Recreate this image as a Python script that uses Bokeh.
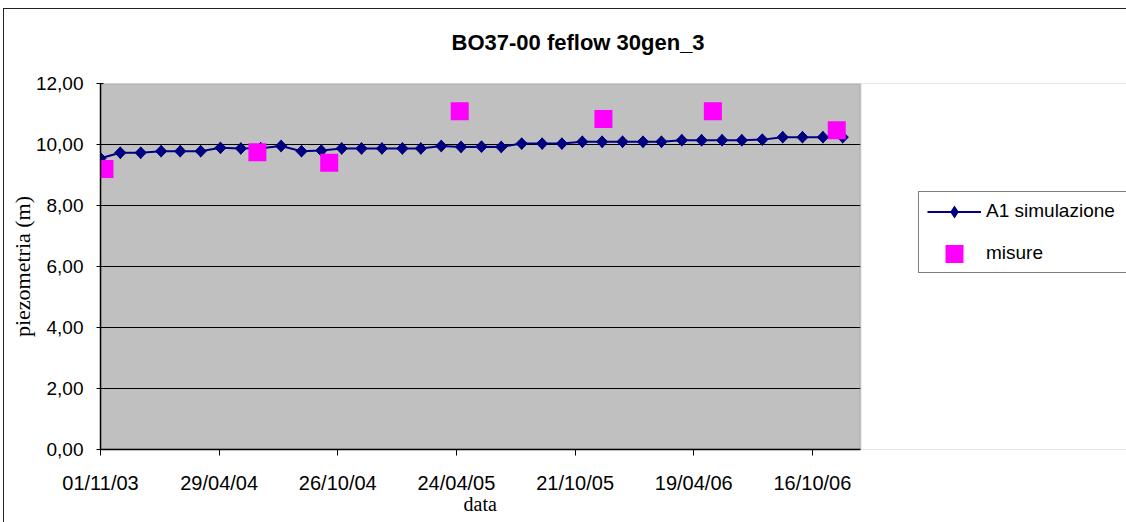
import math
import pandas as pd
from bokeh.plotting import figure
from bokeh.models import (Range1d, FixedTicker, DatetimeTickFormatter, Legend,
                          LegendItem, Title, BoxAnnotation)
from bokeh.embed import file_html
from bokeh.resources import INLINE

# ---------------- data ----------------
title_text = "BO37-00 feflow 30gen_3"
x_label = "data"
y_label = "piezometria (m)"
series_sim = "A1 simulazione"
series_meas = "misure"

x_tick_labels = ["01/11/03", "29/04/04", "26/10/04", "24/04/05",
                 "21/10/05", "19/04/06", "16/10/06"]
y_ticks = [0, 2, 4, 6, 8, 10, 12]
y_tick_labels = ["0,00", "2,00", "4,00", "6,00", "8,00", "10,00", "12,00"]

x_start = "2003-11-01"
x_end = "2006-12-28"
y_min, y_max = 0, 12

# monthly simulation values (Nov 2003 - Dec 2006)
sim_dates = pd.date_range("2003-11-01", periods=38, freq="MS")
sim_values = [9.55, 9.73, 9.73, 9.78, 9.78, 9.78, 9.89, 9.87, 9.88, 9.95,
              9.78, 9.80, 9.87, 9.87, 9.87, 9.87, 9.87, 9.95, 9.92, 9.93,
              9.92, 10.03, 10.03, 10.03, 10.09, 10.09, 10.09, 10.09, 10.09, 10.14,
              10.14, 10.14, 10.14, 10.16, 10.24, 10.24, 10.24, 10.24]

meas_dates = pd.to_datetime(["2003-11-07", "2004-06-26", "2004-10-13", "2005-04-29",
                             "2005-12-03", "2006-05-18", "2006-11-22"])
meas_values = [9.20, 9.75, 9.40, 11.09, 10.84, 11.09, 10.47]

# ---------------- layout constants ----------------
W, H = 1126, 522
LEFT, TOP, BOTTOM = 100, 83, 73
PLOT_RIGHT = 860          # right edge of the grey plot area (px)
SANS = "Liberation Sans"
SERIF = "Liberation Serif"

t0, t1 = pd.Timestamp(x_start), pd.Timestamp(x_end)
# the Bokeh frame runs to the canvas edge so the legend can sit right of the plot area
frame_end = t0 + (t1 - t0) * ((W - LEFT) / (PLOT_RIGHT - LEFT))

p = figure(width=W, height=H, x_axis_type="datetime",
           x_range=Range1d(t0, frame_end), y_range=Range1d(y_min, y_max),
           output_backend="svg", toolbar_location=None,
           min_border_left=LEFT, min_border_right=0,
           min_border_top=TOP, min_border_bottom=BOTTOM)

# outer chart border (left and top edges only)
p.styles = {"box-shadow": "inset 3px 8px 0 0 #ffffff, inset 4px 9px 0 0 #222222",
            "background-color": "#ffffff"}
p.border_fill_alpha = 0

p.title = Title(text=title_text, align="left", offset=351,
                text_font=SANS, text_font_size="22px", text_font_style="bold",
                text_color="black", vertical_align="top", standoff=54)

p.background_fill_color = "#C0C0C0"
p.outline_line_color = None

# x axis
tick_dates = pd.to_datetime(x_tick_labels, format="%d/%m/%y")
tick_ms = [d.timestamp() * 1000.0 for d in tick_dates]
p.xaxis.ticker = FixedTicker(ticks=tick_ms)
p.xaxis.bounds = (t0, t1)
fmt = "%d/%m/%y"
p.xaxis.formatter = DatetimeTickFormatter(
    microseconds=fmt, milliseconds=fmt, seconds=fmt, minsec=fmt, minutes=fmt,
    hourmin=fmt, hours=fmt, days=fmt, months=fmt, years=fmt)
p.xaxis.major_label_text_font = SANS
p.xaxis.major_label_text_font_size = "20px"
p.xaxis.major_label_text_color = "black"
p.xaxis.major_tick_out = 6
p.xaxis.major_tick_in = 0
p.xaxis.major_label_standoff = 16
p.xaxis.minor_tick_line_color = None
p.xaxis.axis_line_color = "black"
p.xaxis.axis_line_width = 1.5
p.xaxis.major_tick_line_color = "black"

# x-axis title, centred under the grey plot area (not under the whole frame)
p.add_layout(Title(text=x_label, align="left", offset=363, text_font=SERIF,
                   text_font_size="20px", text_font_style="normal",
                   text_color="black", standoff=-12), "below")

# y axis
p.yaxis.ticker = FixedTicker(ticks=y_ticks)
p.yaxis.major_label_overrides = {t: l for t, l in zip(y_ticks, y_tick_labels)}
p.yaxis.major_label_text_font = SANS
p.yaxis.major_label_text_font_size = "19px"
p.yaxis.major_label_text_color = "black"
p.yaxis.major_tick_out = 4
p.yaxis.major_tick_in = 3
p.yaxis.major_label_standoff = 13
p.yaxis.minor_tick_line_color = None
p.yaxis.axis_line_color = "black"
p.yaxis.axis_line_width = 1.5
p.yaxis.major_tick_line_color = "black"
p.yaxis.axis_label = y_label
p.yaxis.axis_label_text_font = SERIF
p.yaxis.axis_label_text_font_size = "22px"
p.yaxis.axis_label_text_font_style = "normal"
p.yaxis.axis_label_text_color = "black"
p.yaxis.axis_label_standoff = -2

p.xgrid.visible = False
p.ygrid.grid_line_color = "black"
p.ygrid.grid_line_width = 1

# white area right of the plot area, then the plot-area border
p.add_layout(BoxAnnotation(left=t1, fill_color="white", fill_alpha=1,
                           line_alpha=0, level="underlay"))
p.add_layout(BoxAnnotation(left=t0, right=t1, bottom=y_min, top=y_max,
                           fill_alpha=0, line_color="#808080", line_width=2,
                           level="underlay"))

# ---------------- glyphs ----------------
r_line = p.line(sim_dates, sim_values, line_color="#000080", line_width=2)
# diamond marker underneath (used as the legend key; legend keys are never rotated)
r_dia_key = p.scatter(sim_dates, sim_values, marker="diamond", size=8.4,
                      fill_color="#000080", line_color="#000080", line_width=2.5,
                      line_join="miter")
r_dia = p.scatter(sim_dates, sim_values, marker="square", angle=math.pi / 4,
                  size=8, fill_color="#000080", line_color="#000080", line_width=1)
# square drawn with thick same-colour outline: visual side = size + line_width
r_meas = p.scatter(meas_dates, meas_values, marker="square", size=8.4,
                   fill_color="#FF00FF", line_color="#FF00FF", line_width=9.6,
                   line_join="miter")

# ---------------- legend ----------------
legend = Legend(items=[LegendItem(label=series_sim, renderers=[r_line, r_dia_key]),
                       LegendItem(label=series_meas, renderers=[r_meas])],
                location=(918 - LEFT, 176), glyph_width=54, glyph_height=21,
                label_standoff=5, padding=8, spacing=20, label_width=150,
                margin=0, border_line_color="black", border_line_width=1,
                background_fill_color="white", background_fill_alpha=1,
                label_text_font=SANS, label_text_font_size="19px",
                label_text_color="black")
p.add_layout(legend, "center")

open("out.html", "w").write(file_html(p, INLINE))
